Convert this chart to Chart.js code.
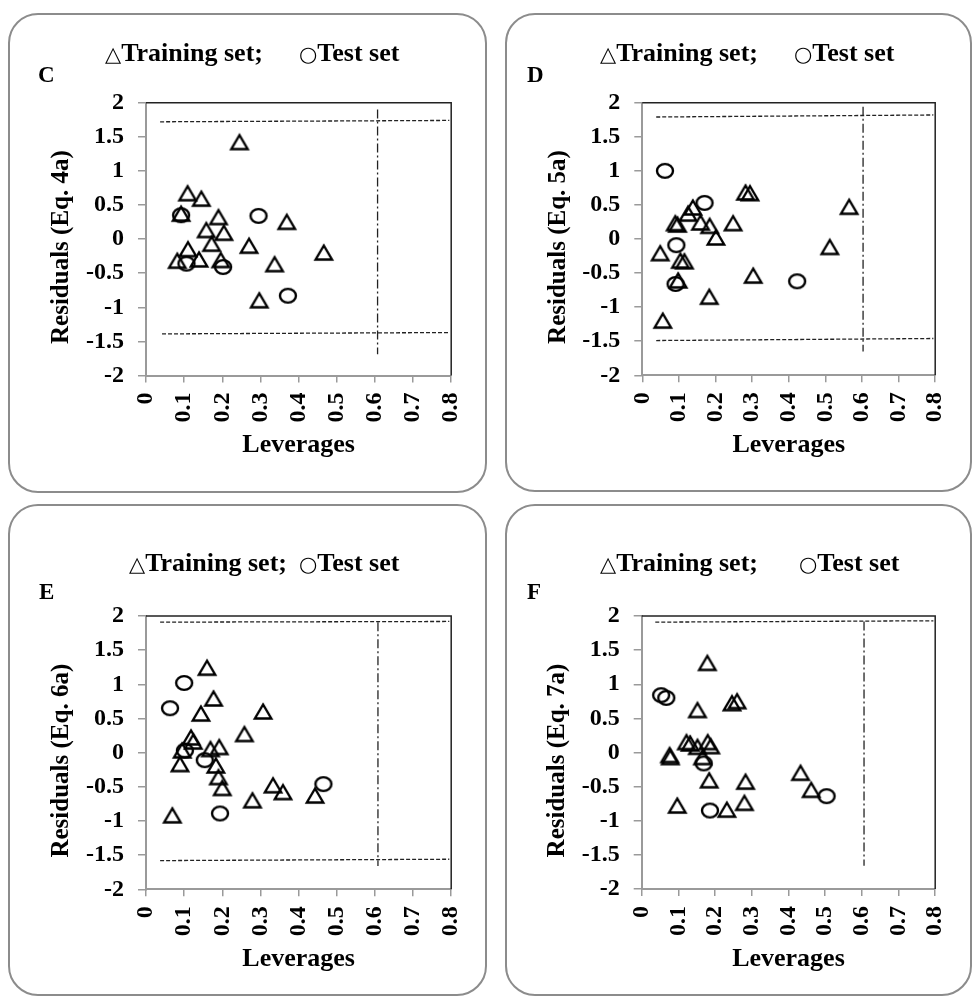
<!DOCTYPE html>
<html>
<head>
<meta charset="utf-8">
<script src="https://cdn.jsdelivr.net/npm/chart.js@4.4.0/dist/chart.umd.min.js"></script>
<style>
  html, body { margin: 0; padding: 0; background: #fff; }
  body { position: relative; width: 974px; height: 1000px; overflow: hidden;
         font-family: "Liberation Serif", "Times New Roman", serif; }
  .box { position: absolute; border: 2px solid #8c8c8c; border-radius: 30px; box-sizing: border-box; }
  canvas { position: absolute; }
  .legend { position: absolute; font-weight: bold; font-size: 26px; line-height: 1; white-space: pre; color: #000; }
  .sym { font-family: "DejaVu Sans", sans-serif; font-weight: normal; font-size: 21px; }
  .letter { position: absolute; font-weight: bold; font-size: 23px; line-height: 1; color: #000; }
</style>
</head>
<body>

<div class="box" style="left:8px;top:13px;width:479px;height:480px"></div>
<div class="box" style="left:505px;top:13px;width:467px;height:479px"></div>
<div class="box" style="left:8px;top:504px;width:479px;height:492px"></div>
<div class="box" style="left:505px;top:504px;width:467px;height:492px"></div>

<canvas id="chartC" width="490" height="500" style="left:0px;top:0px"></canvas>
<canvas id="chartD" width="484" height="500" style="left:490px;top:0px"></canvas>
<canvas id="chartE" width="490" height="500" style="left:0px;top:500px"></canvas>
<canvas id="chartF" width="484" height="500" style="left:490px;top:500px"></canvas>

<div class="legend" style="left:105px;top:40px"><span class="sym">△</span>Training set;</div>
<div class="legend" style="left:299px;top:40px"><span class="sym">○</span>Test set</div>
<div class="letter" style="left:38px;top:63px">C</div>

<div class="legend" style="left:600px;top:40px"><span class="sym">△</span>Training set;</div>
<div class="legend" style="left:794px;top:40px"><span class="sym">○</span>Test set</div>
<div class="letter" style="left:527px;top:63px">D</div>

<div class="legend" style="left:129px;top:550px"><span class="sym">△</span>Training set;</div>
<div class="legend" style="left:299px;top:550px"><span class="sym">○</span>Test set</div>
<div class="letter" style="left:39px;top:580px">E</div>

<div class="legend" style="left:600px;top:550px"><span class="sym">△</span>Training set;</div>
<div class="legend" style="left:799px;top:550px"><span class="sym">○</span>Test set</div>
<div class="letter" style="left:527px;top:580px">F</div>

<script>
// ---- axis ticks ----
const xTicks = [0, 0.1, 0.2, 0.3, 0.4, 0.5, 0.6, 0.7, 0.8];
const xTickLabels = ['0', '0.1', '0.2', '0.3', '0.4', '0.5', '0.6', '0.7', '0.8'];
const yTicks = [-2, -1.5, -1, -0.5, 0, 0.5, 1, 1.5, 2];
const yTickLabels = ['-2', '-1.5', '-1', '-0.5', '0', '0.5', '1', '1.5', '2'];

// ---- Eq. 4a : [leverage, residual] ----
const trainC = [[0.245, 1.43], [0.109, 0.68], [0.145, 0.60], [0.092, 0.38], [0.190, 0.33],
  [0.369, 0.26], [0.158, 0.14], [0.204, 0.10], [0.172, -0.06], [0.270, -0.09],
  [0.110, -0.14], [0.466, -0.19], [0.082, -0.31], [0.139, -0.29], [0.196, -0.30],
  [0.337, -0.36], [0.297, -0.89]];
const testC = [[0.092, 0.35], [0.295, 0.34], [0.106, -0.36], [0.202, -0.41], [0.372, -0.83]];
const upperC = [[0.037, 1.72], [0.795, 1.74]];
const lowerC = [[0.042, -1.39], [0.795, -1.37]];
const hStarC = [[0.607, 1.90], [0.607, -1.69]];

// ---- Eq. 5a ----
const trainD = [[0.282, 0.69], [0.294, 0.68], [0.565, 0.48], [0.138, 0.47], [0.125, 0.38],
  [0.090, 0.24], [0.096, 0.22], [0.159, 0.25], [0.184, 0.20], [0.248, 0.24],
  [0.201, 0.03], [0.049, -0.20], [0.104, -0.31], [0.115, -0.32], [0.512, -0.11],
  [0.098, -0.60], [0.303, -0.53], [0.183, -0.84], [0.056, -1.19]];
const testD = [[0.062, 1.00], [0.170, 0.53], [0.093, -0.09], [0.091, -0.66], [0.423, -0.62]];
const upperD = [[0.038, 1.79], [0.795, 1.82]];
const lowerD = [[0.038, -1.49], [0.795, -1.46]];
const hStarD = [[0.603, 1.94], [0.603, -1.65]];

// ---- Eq. 6a ----
const trainE = [[0.160, 1.25], [0.177, 0.80], [0.144, 0.58], [0.307, 0.61], [0.258, 0.28],
  [0.118, 0.23], [0.124, 0.17], [0.095, 0.04], [0.169, 0.06], [0.192, 0.09],
  [0.089, -0.16], [0.183, -0.18], [0.190, -0.35], [0.200, -0.51], [0.333, -0.47],
  [0.359, -0.57], [0.443, -0.62], [0.279, -0.69], [0.069, -0.91]];
const testE = [[0.100, 1.02], [0.063, 0.65], [0.102, 0.03], [0.154, -0.11], [0.465, -0.46], [0.194, -0.89]];
const upperE = [[0.037, 1.91], [0.795, 1.92]];
const lowerE = [[0.037, -1.58], [0.795, -1.56]];
const hStarE = [[0.608, 1.91], [0.608, -1.66]];

// ---- Eq. 7a ----
const trainF = [[0.179, 1.32], [0.246, 0.73], [0.260, 0.76], [0.152, 0.63], [0.122, 0.16],
  [0.132, 0.14], [0.152, 0.09], [0.180, 0.16], [0.188, 0.10], [0.076, -0.03],
  [0.078, -0.06], [0.166, -0.06], [0.184, -0.40], [0.283, -0.42], [0.433, -0.29],
  [0.462, -0.54], [0.097, -0.77], [0.232, -0.83], [0.280, -0.73]];
const testF = [[0.053, 0.84], [0.067, 0.80], [0.169, -0.16], [0.504, -0.64], [0.186, -0.85]];
const upperF = [[0.037, 1.91], [0.795, 1.93]];
const lowerF = [];
const hStarF = [[0.606, 1.92], [0.606, -1.66]];

// ---- marker glyphs ----
function triangleMarker() {
  const c = document.createElement('canvas');
  c.width = 24; c.height = 22;
  const g = c.getContext('2d');
  g.lineWidth = 2.4; g.strokeStyle = '#000'; g.lineJoin = 'miter';
  g.beginPath(); g.moveTo(12, 4.5); g.lineTo(20.2, 18.5); g.lineTo(3.8, 18.5); g.closePath();
  g.stroke();
  return c;
}
function circleMarker() {
  const c = document.createElement('canvas');
  c.width = 22; c.height = 20;
  const g = c.getContext('2d');
  g.lineWidth = 2.4; g.strokeStyle = '#000';
  g.beginPath(); g.ellipse(11, 10, 8.0, 6.9, 0, 0, Math.PI * 2); g.stroke();
  return c;
}
const TRI = triangleMarker();
const CIRC = circleMarker();

const FONT = 'Liberation Serif';

// frame along the top and right of the plot area
const plotFrame = {
  id: 'plotFrame',
  beforeDatasetsDraw(chart) {
    const { ctx, chartArea: a } = chart;
    ctx.save();
    ctx.strokeStyle = '#222';
    ctx.lineWidth = 1.5;
    ctx.beginPath();
    ctx.moveTo(a.left, a.top);
    ctx.lineTo(a.right, a.top);
    ctx.lineTo(a.right, a.bottom);
    ctx.stroke();
    ctx.restore();
  }
};

// vertical axis title, sitting a little below the plot-area centre
const yAxisTitle = {
  id: 'yAxisTitle',
  afterDraw(chart, args, opts) {
    const { ctx, chartArea: a } = chart;
    ctx.save();
    ctx.translate(a.left - 84, (a.top + a.bottom) / 2 + 8);
    ctx.rotate(-Math.PI / 2);
    ctx.font = 'bold 25px "' + FONT + '"';
    ctx.fillStyle = '#000';
    ctx.textAlign = 'center';
    ctx.textBaseline = 'middle';
    ctx.fillText(opts.text, 0, 0);
    ctx.restore();
  }
};

const pts = arr => arr.map(([x, y]) => ({ x, y }));

function refLine(arr, dash) {
  return {
    type: 'line', data: pts(arr), showLine: true, fill: false,
    borderColor: '#222', borderWidth: 1.3, borderDash: dash,
    pointRadius: 0, pointHoverRadius: 0, tension: 0
  };
}

function drawPanel(id, canvasBox, area, train, test, upper, lower, hStar, yTitle) {
  const padL = 20;
  const yAxisW = area.l - canvasBox.x - padL;
  const padR = canvasBox.x + canvasBox.w - area.r;
  const padT = area.t - canvasBox.y;
  const xAxisH = 92;
  const padB = canvasBox.y + canvasBox.h - area.b - xAxisH;
  const xTitlePadB = xAxisH - 70 - 15.6;

  const datasets = [
    { label: 'Training set', data: pts(train), pointStyle: TRI, pointRadius: 9, showLine: false },
    { label: 'Test set', data: pts(test), pointStyle: CIRC, pointRadius: 9, showLine: false },
    refLine(upper, [4, 2]),
    refLine(hStar, [9, 3, 2, 3])
  ];
  if (lower.length) datasets.push(refLine(lower, [4, 2]));

  new Chart(document.getElementById(id), {
    type: 'scatter',
    data: { datasets },
    options: {
      responsive: false,
      animation: false,
      events: [],
      layout: { padding: { left: padL, right: padR, top: padT, bottom: padB } },
      plugins: { legend: { display: false }, tooltip: { enabled: false }, yAxisTitle: { text: yTitle } },
      scales: {
        x: {
          type: 'linear', min: 0, max: 0.8,
          afterBuildTicks: s => { s.ticks = xTicks.map(v => ({ value: v })); },
          afterFit: s => { s.height = xAxisH; },
          ticks: {
            autoSkip: false, minRotation: 90, maxRotation: 90, padding: 10, color: '#000',
            font: { family: FONT, size: 24, weight: 'bold' },
            callback: (v, i) => xTickLabels[i]
          },
          grid: { drawOnChartArea: false, drawTicks: true, tickLength: 7, color: '#9a9a9a', lineWidth: 1.5 },
          border: { display: true, color: '#9a9a9a', width: 2 },
          title: { display: true, text: 'Leverages', color: '#000',
                   font: { family: FONT, size: 26, weight: 'bold' },
                   padding: { top: 0, bottom: xTitlePadB } }
        },
        y: {
          type: 'linear', min: -2, max: 2,
          afterBuildTicks: s => { s.ticks = yTicks.map(v => ({ value: v })); },
          afterFit: s => { s.width = yAxisW; },
          ticks: {
            autoSkip: false, padding: 14, color: '#000',
            font: { family: FONT, size: 24, weight: 'bold' },
            callback: (v, i) => yTickLabels[i]
          },
          grid: { drawOnChartArea: false, drawTicks: true, tickLength: 8, color: '#9a9a9a', lineWidth: 1.5 },
          border: { display: true, color: '#9a9a9a', width: 2 },
          title: { display: false }
        }
      }
    },
    plugins: [plotFrame, yAxisTitle]
  });
}

drawPanel('chartC', { x: 0, y: 0, w: 490, h: 500 }, { l: 146, t: 102.7, r: 461.7, b: 375.5 },
  trainC, testC, upperC, lowerC, hStarC, 'Residuals (Eq. 4a)');
drawPanel('chartD', { x: 490, y: 0, w: 484, h: 500 }, { l: 642.3, t: 102.7, r: 957.7, b: 375.3 },
  trainD, testD, upperD, lowerD, hStarD, 'Residuals (Eq. 5a)');
drawPanel('chartE', { x: 0, y: 500, w: 490, h: 500 }, { l: 146, t: 616, r: 461.7, b: 889.3 },
  trainE, testE, upperE, lowerE, hStarE, 'Residuals (Eq. 6a)');
drawPanel('chartF', { x: 490, y: 500, w: 484, h: 500 }, { l: 641.7, t: 616, r: 957.7, b: 889 },
  trainF, testF, upperF, lowerF, hStarF, 'Residuals (Eq. 7a)');
</script>
</body>
</html>
